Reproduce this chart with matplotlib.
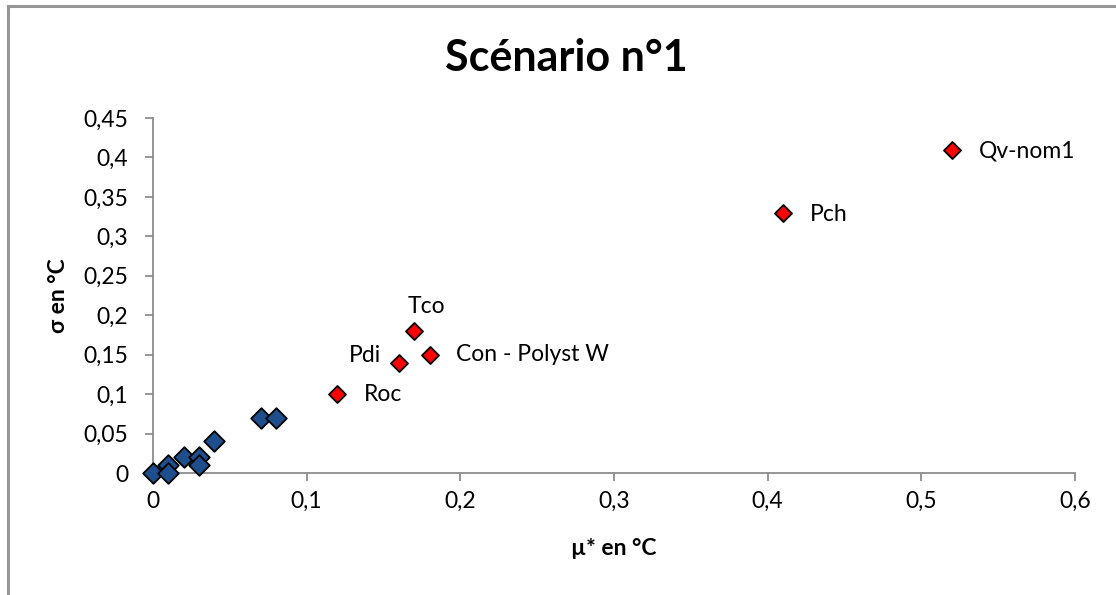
import matplotlib
matplotlib.use("Agg")
import matplotlib.pyplot as plt
from matplotlib.lines import Line2D
from matplotlib.ticker import FuncFormatter

plt.rcParams['font.family'] = ['Lato', 'DejaVu Sans']

# Blue (non-influential) parameters
blue_mu = [0.0, 0.01, 0.01, 0.02, 0.03, 0.03, 0.04, 0.07, 0.08]
blue_sigma = [0.0, 0.01, 0.0, 0.02, 0.02, 0.01, 0.04, 0.07, 0.07]

# Red (influential) parameters
red_labels = ["Roc", "Pdi", "Tco", "Con - Polyst W", "Pch", "Qv-nom1"]
red_mu = [0.12, 0.16, 0.17, 0.18, 0.41, 0.52]
red_sigma = [0.10, 0.14, 0.18, 0.15, 0.33, 0.41]

x_ticks = [0, 0.1, 0.2, 0.3, 0.4, 0.5, 0.6]
y_ticks = [0, 0.05, 0.1, 0.15, 0.2, 0.25, 0.3, 0.35, 0.4, 0.45]

W, H = 1116, 595
fig = plt.figure(figsize=(W / 100, H / 100), dpi=100)

# chart area border (left and top visible)
fig.add_artist(Line2D([7.5 / W, 7.5 / W], [0, 1 - 6 / H], color='#969696', lw=2.2, transform=fig.transFigure))
fig.add_artist(Line2D([7.5 / W, 1], [1 - 6 / H, 1 - 6 / H], color='#969696', lw=2.2, transform=fig.transFigure))

ax = fig.add_axes([153 / W, 1 - 473 / H, (1075 - 153) / W, (473 - 118) / H])
ax.set_xlim(0, 0.6)
ax.set_ylim(0, 0.45)

ax.scatter(blue_mu, blue_sigma, marker='D', s=110, color='#1F4E8C', edgecolors='black', linewidths=1.3, zorder=3, clip_on=False)
ax.scatter(red_mu, red_sigma, marker='D', s=75, color='#FF0000', edgecolors='black', linewidths=1.3, zorder=3, clip_on=False)

offsets = {
    "Roc": (19, 0, 'left', 'center'),
    "Pdi": (-13, 5, 'right', 'center'),
    "Tco": (9, 10, 'center', 'bottom'),
    "Con - Polyst W": (19, 0, 'left', 'center'),
    "Pch": (19, -1, 'left', 'center'),
    "Qv-nom1": (19, -1, 'left', 'center'),
}
for lab, x, y in zip(red_labels, red_mu, red_sigma):
    dx, dy, ha, va = offsets[lab]
    ax.annotate(lab, (x, y), xytext=(dx, dy), textcoords='offset points', ha=ha, va=va, fontsize=16.5, color='black')

for s in ['top', 'right']:
    ax.spines[s].set_visible(False)
for s in ['left', 'bottom']:
    ax.spines[s].set_color('#8C8C8C')
    ax.spines[s].set_linewidth(1.3)

ax.set_xticks(x_ticks)
ax.set_yticks(y_ticks)
fmt = FuncFormatter(lambda v, p: ('%g' % round(v, 2)).replace('.', ','))
ax.xaxis.set_major_formatter(fmt)
ax.yaxis.set_major_formatter(fmt)
ax.tick_params(axis='both', direction='out', length=6, width=1.3, color='#8C8C8C', labelsize=16.5)
ax.tick_params(axis='y', pad=12)
ax.tick_params(axis='x', pad=7)

ax.set_xlabel("µ* en °C", fontsize=16.5, fontweight='bold', labelpad=19)
ax.set_ylabel("σ en °C", fontsize=16.5, fontweight='bold', labelpad=10)

fig.text(566 / W, 1 - 58 / H, "Scénario n°1", ha='center', va='center', fontsize=31, fontweight='bold')

fig.savefig("out.png", dpi=100)
